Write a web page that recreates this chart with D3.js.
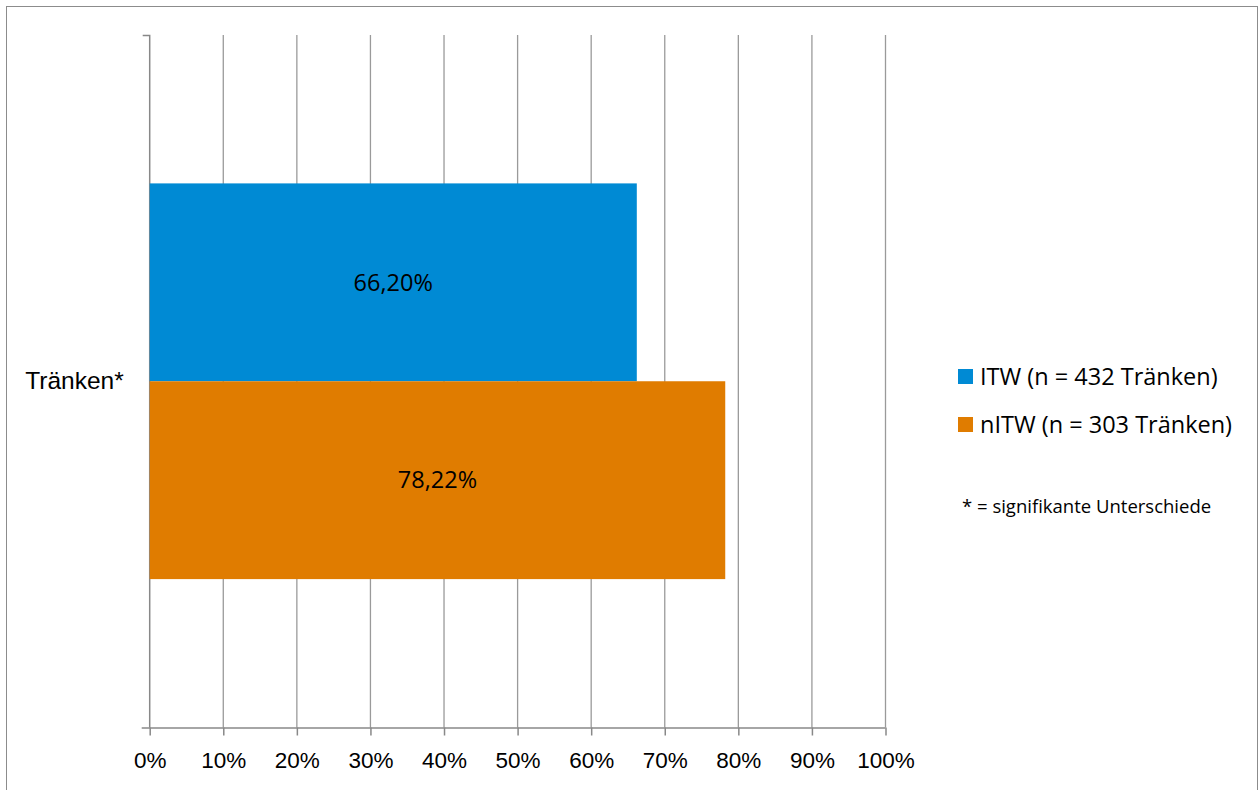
<!DOCTYPE html>
<html>
<head>
<meta charset="utf-8">
<script src="https://cdnjs.cloudflare.com/ajax/libs/d3/7.8.5/d3.min.js"></script>
<style>
  body { margin: 0; background: #fff; }
  svg { display: block; font-family: "Open Sans", "Noto Sans", sans-serif; }
</style>
</head>
<body>
<div id="chart"></div>
<script>
// Daten
const categories = ["Tränken*"];
const series = ["ITW (n = 432 Tränken)", "nITW (n = 303 Tränken)"];
const seriesValues = [66.20, 78.22];
const seriesColors = ["#008AD4", "#E07C00"];
const xTicks = [0, 10, 20, 30, 40, 50, 60, 70, 80, 90, 100];
const note = "* = signifikante Unterschiede";

const W = 1259, H = 790;
const margin = { top: 35, left: 149.7, right: 1259 - 885.5, bottom: 790 - 727.5 };
const width = W - margin.left - margin.right;
const height = H - margin.top - margin.bottom;

const svg = d3.select("#chart")
  .append("svg")
  .attr("width", W)
  .attr("height", H);

// Rahmen
svg.append("rect")
  .attr("x", 6.5).attr("y", 6.5)
  .attr("width", 1251).attr("height", 800)
  .attr("fill", "none")
  .attr("stroke", "#8c8c8c")
  .attr("stroke-width", 1);

const g = svg.append("g")
  .attr("transform", `translate(${margin.left},${margin.top})`);

const x = d3.scaleLinear().domain([0, 100]).range([0, width]);
const y = d3.scaleBand().domain(categories).range([0, height]);
const ySub = d3.scaleBand().domain(series).range([0, y.bandwidth()]).paddingOuter(0.75);

// Gitterlinien
g.append("g")
  .selectAll("line")
  .data(xTicks.slice(1))
  .join("line")
  .attr("x1", d => x(d)).attr("x2", d => x(d))
  .attr("y1", 0).attr("y2", height)
  .attr("stroke", "#9a9a9a")
  .attr("stroke-width", 1.3);

// x-Achse
const xAxis = g.append("g")
  .attr("transform", `translate(0,${height})`)
  .call(d3.axisBottom(x).tickValues(xTicks).tickFormat(d => d + "%").tickSize(8).tickSizeOuter(0));
xAxis.select(".domain").attr("stroke", "#888").attr("stroke-width", 1.5)
  .attr("d", `M-8,0.5H${width}`);
xAxis.selectAll(".tick line").attr("stroke", "#888").attr("stroke-width", 1.5);
xAxis.selectAll(".tick text")
  .attr("y", 25)
  .attr("dy", "0.71em")
  .attr("fill", "#000")
  .style("font-size", "22.5px");

// y-Achse
const yAxis = g.append("g")
  .call(d3.axisLeft(y).tickSize(0).tickSizeOuter(0).tickPadding(26));
yAxis.select(".domain").attr("stroke", "#888").attr("stroke-width", 1.5)
  .attr("d", `M-7,0.5H0V${height}`);
yAxis.selectAll(".tick text")
  .attr("fill", "#000")
  .style("font-size", "24.5px");

// Balken
const bars = g.append("g")
  .selectAll("g")
  .data(series.map((s, i) => ({ s, v: seriesValues[i], c: seriesColors[i], cat: categories[0] })))
  .join("g");

bars.append("rect")
  .attr("x", 0)
  .attr("y", d => y(d.cat) + ySub(d.s))
  .attr("width", d => x(d.v))
  .attr("height", ySub.bandwidth())
  .attr("fill", d => d.c);

bars.append("text")
  .attr("x", d => x(d.v) / 2)
  .attr("y", d => y(d.cat) + ySub(d.s) + ySub.bandwidth() / 2)
  .attr("dy", "0.35em")
  .attr("text-anchor", "middle")
  .style("font-size", "23.5px")
  .text(d => d.v.toFixed(2).replace(".", ",") + "%");

// Legende
const legend = svg.append("g").attr("transform", "translate(958,369)");
const li = legend.selectAll("g")
  .data(series)
  .join("g")
  .attr("transform", (d, i) => `translate(0,${i * 48})`);
li.append("rect")
  .attr("width", 15).attr("height", 15)
  .attr("fill", (d, i) => seriesColors[i]);
li.append("text")
  .attr("x", 22).attr("y", 8)
  .attr("dy", "0.35em")
  .style("font-size", "23.5px")
  .text(d => d);

svg.append("text")
  .attr("x", 962).attr("y", 507)
  .attr("dy", "0.35em")
  .style("font-size", "18.5px")
  .text(note);
</script>
</body>
</html>
